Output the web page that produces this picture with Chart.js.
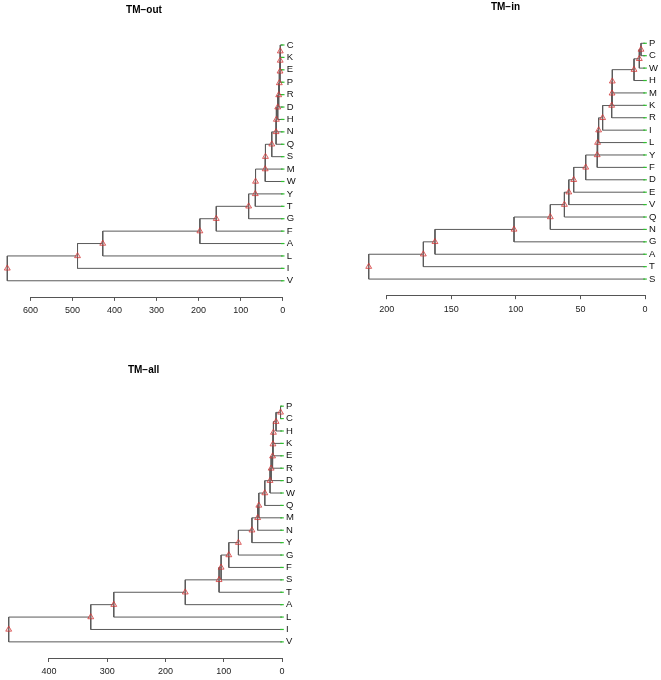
<!DOCTYPE html>
<html>
<head>
<meta charset="utf-8">
<script src="https://cdn.jsdelivr.net/npm/chart.js@4.4.1/dist/chart.umd.min.js"></script>
<style>
  html, body { margin: 0; padding: 0; background: #fff; }
  body { position: relative; width: 661px; height: 680px; overflow: hidden; }
  canvas { position: absolute; }
</style>
</head>
<body>
<canvas id="tmOut" width="330" height="340" style="left:0px;top:0px"></canvas>
<canvas id="tmIn" width="331" height="340" style="left:330px;top:0px"></canvas>
<canvas id="tmAll" width="330" height="340" style="left:0px;top:340px"></canvas>
<script>
// leaf order (top to bottom) and merge heights of each ladder-shaped dendrogram
const outLeaves = ['C', 'K', 'E', 'P', 'R', 'D', 'H', 'N', 'Q', 'S', 'M', 'W', 'Y', 'T', 'G', 'F', 'A', 'L', 'I', 'V'];
const outHeights = [5.7, 5.9, 6.4, 8, 9.5, 11.8, 15, 15.8, 26, 41, 41.6, 64.6, 65.2, 81, 158, 197, 428, 488, 655];
const outTicks = [0, 100, 200, 300, 400, 500, 600];

const inLeaves = ['P', 'C', 'W', 'H', 'M', 'K', 'R', 'I', 'L', 'Y', 'F', 'D', 'E', 'V', 'Q', 'N', 'G', 'A', 'T', 'S'];
const inHeights = [3.1, 4.4, 8.5, 25.3, 25.5, 25.8, 32.8, 35.9, 36.7, 37, 45.9, 55.2, 59, 62.4, 73.3, 101.4, 162.6, 171.6, 213.9];
const inTicks = [0, 50, 100, 150, 200];

const allLeaves = ['P', 'C', 'H', 'K', 'E', 'R', 'D', 'W', 'Q', 'M', 'N', 'Y', 'G', 'F', 'S', 'T', 'A', 'L', 'I', 'V'];
const allHeights = [2.5, 10.2, 14.7, 15.5, 16.2, 18.6, 20.5, 29.5, 39.8, 41.8, 51.6, 74.8, 91.3, 104.5, 108, 166, 288.7, 328.2, 469];
const allTicks = [0, 100, 200, 300, 400];

const FONT = "'Liberation Sans', Arial, Helvetica, sans-serif";

// each merge joins the cluster above with the next leaf
const buildTree = (heights) => {
  const paths = [[{ x: heights[0], y: 0 }, { x: 0, y: 0 }]];
  const nodes = [];
  let prevY = 0;
  heights.forEach((h, k) => {
    const leafY = k + 1;
    const path = [];
    if (k > 0) path.push({ x: heights[k - 1], y: prevY });
    path.push({ x: h, y: prevY }, { x: h, y: leafY }, { x: 0, y: leafY });
    paths.push(path);
    const y = (prevY + leafY) / 2;
    nodes.push({ x: h, y: y });
    prevY = y;
  });
  return { paths, nodes };
};

const axisLine = {
  id: 'axisLine',
  afterDraw(chart) {
    const xs = chart.scales.x;
    const first = xs.ticks[0].value;
    const last = xs.ticks[xs.ticks.length - 1].value;
    const ctx = chart.ctx;
    const y = Math.round(chart.chartArea.bottom) + 0.5;
    ctx.save();
    ctx.strokeStyle = '#555';
    ctx.lineWidth = 1;
    ctx.beginPath();
    ctx.moveTo(xs.getPixelForValue(first), y);
    ctx.lineTo(xs.getPixelForValue(last), y);
    ctx.stroke();
    ctx.restore();
  }
};

const makeDendrogram = (id, title, leaves, heights, ticks, lay) => {
  const tree = buildTree(heights);
  const datasets = [{
    data: tree.nodes,
    pointStyle: 'triangle',
    pointRadius: 3.4,
    borderWidth: 1,
    borderColor: 'rgba(210,50,50,0.75)',
    backgroundColor: 'rgba(240,160,160,0.2)',
    clip: false
  }, {
    data: leaves.map((_, i) => ({ x: 0, y: i })),
    pointStyle: 'line',
    pointRadius: 1.8,
    borderWidth: 1.2,
    borderColor: '#2fc02f',
    clip: false
  }];
  tree.paths.forEach(p => datasets.push({
    data: p,
    showLine: true,
    pointRadius: 0,
    borderColor: '#5a5a5a',
    borderWidth: 1,
    clip: false
  }));

  return new Chart(document.getElementById(id), {
    type: 'scatter',
    data: { datasets },
    options: {
      responsive: false,
      animation: false,
      layout: { padding: { left: lay.padLeft, right: 0, top: 0, bottom: 0 } },
      plugins: {
        legend: { display: false },
        tooltip: { enabled: false },
        title: {
          display: true,
          text: title,
          fullSize: false,
          color: '#000',
          font: { family: FONT, size: 10, weight: 'bold', lineHeight: 1.2 },
          padding: { top: lay.titleTop, bottom: lay.titleBottom }
        }
      },
      scales: {
        x: {
          type: 'linear',
          reverse: true,
          min: 0,
          max: lay.xMax,
          afterBuildTicks: s => { s.ticks = ticks.map(v => ({ value: v })); },
          afterFit: s => { s.height = lay.xAxisH; },
          grid: { display: true, drawOnChartArea: false, drawTicks: true, tickLength: 4, color: '#555' },
          border: { display: false },
          ticks: { autoSkip: false, maxRotation: 0, padding: 4.5, color: '#222', font: { family: FONT, size: 9 } }
        },
        y: {
          type: 'linear',
          position: 'right',
          reverse: true,
          min: -1.2,
          max: 20.3,
          afterBuildTicks: s => { s.ticks = leaves.map((_, i) => ({ value: i })); },
          afterFit: s => { s.width = lay.yAxisW; },
          grid: { display: false, drawTicks: false },
          border: { display: false },
          ticks: {
            autoSkip: false,
            padding: 4,
            color: '#111',
            font: { family: FONT, size: 9.5 },
            callback: v => leaves[v]
          }
        }
      }
    },
    plugins: [axisLine]
  });
};

makeDendrogram('tmOut', 'TM\u2212out', outLeaves, outHeights, outTicks,
  { padLeft: 3.3, xMax: 660, yAxisW: 47.3, xAxisH: 43.1, titleTop: 4, titleBottom: 14.1 });
makeDendrogram('tmIn', 'TM\u2212in', inLeaves, inHeights, inTicks,
  { padLeft: 36, xMax: 216, yAxisW: 16, xAxisH: 44.8, titleTop: 1.5, titleBottom: 14.9 });
makeDendrogram('tmAll', 'TM\u2212all', allLeaves, allHeights, allTicks,
  { padLeft: 1.75, xMax: 475, yAxisW: 48, xAxisH: 22, titleTop: 24, titleBottom: 15.3 });
</script>
</body>
</html>
